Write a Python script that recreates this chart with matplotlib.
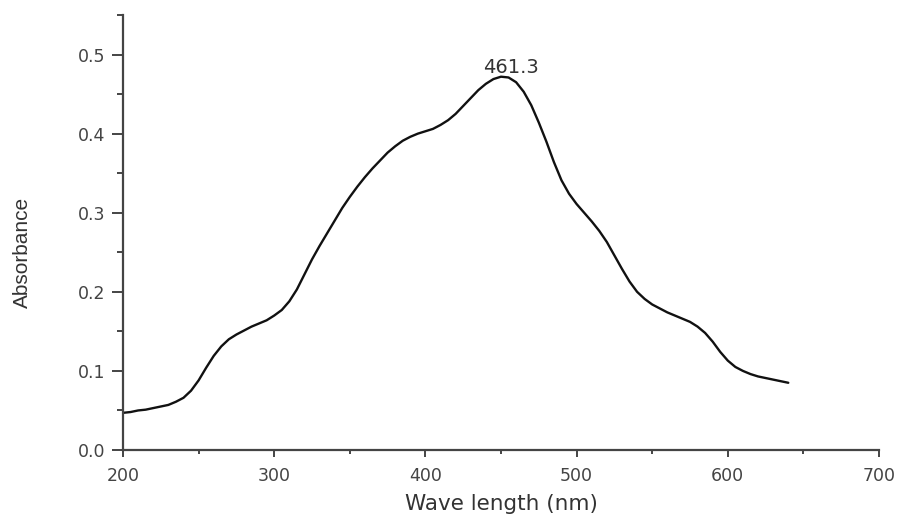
import matplotlib
matplotlib.use("Agg")
import matplotlib.pyplot as plt
from matplotlib.ticker import MultipleLocator

wavelength = list(range(200, 645, 5))
absorbance = [0.047, 0.048, 0.050, 0.051, 0.053, 0.055, 0.057, 0.061, 0.066, 0.075,
              0.088, 0.104, 0.119, 0.131, 0.140, 0.146, 0.151, 0.156, 0.160, 0.164,
              0.170, 0.177, 0.188, 0.203, 0.222, 0.241, 0.258, 0.274, 0.290, 0.306,
              0.320, 0.333, 0.345, 0.356, 0.366, 0.376, 0.384, 0.391, 0.396, 0.400,
              0.403, 0.406, 0.411, 0.417, 0.425, 0.435, 0.445, 0.455, 0.463, 0.469,
              0.472, 0.471, 0.465, 0.453, 0.436, 0.414, 0.390, 0.364, 0.341, 0.324,
              0.311, 0.300, 0.289, 0.277, 0.263, 0.246, 0.229, 0.213, 0.200, 0.191,
              0.184, 0.179, 0.174, 0.170, 0.166, 0.162, 0.156, 0.148, 0.137, 0.124,
              0.113, 0.105, 0.100, 0.096, 0.093, 0.091, 0.089, 0.087, 0.085]
peak_label = "461.3"
peak_pos = (456.6, 0.4836)
xticks = [200, 300, 400, 500, 600, 700]
yticks = [0.0, 0.1, 0.2, 0.3, 0.4, 0.5]

W, H = 901, 517
fig = plt.figure(figsize=(W / 100, H / 100), dpi=100)
ax = fig.add_axes([123 / W, 1 - 450 / H, (879 - 123) / W, (450 - 15) / H])

ax.plot(wavelength, absorbance, color="#111111", lw=1.7, solid_joinstyle="round",
        solid_capstyle="round")
ax.set_xlim(200, 700)
ax.set_ylim(0, 0.55)

for s in ["top", "right"]:
    ax.spines[s].set_visible(False)
for s in ["left", "bottom"]:
    ax.spines[s].set_color("#444444")
    ax.spines[s].set_linewidth(1.6)

ax.set_xticks(xticks)
ax.set_yticks(yticks)
ax.set_yticklabels([f"{v:.1f}" for v in yticks])
ax.xaxis.set_minor_locator(MultipleLocator(50))
ax.yaxis.set_minor_locator(MultipleLocator(0.05))

ax.tick_params(axis="y", which="major", direction="out", length=8, width=1.4,
               color="#444444", pad=5, labelcolor="#444444", labelsize=12.5)
ax.tick_params(axis="y", which="minor", direction="out", length=4.5, width=1.4,
               color="#444444")
ax.tick_params(axis="x", which="major", direction="out", length=5, width=1.4,
               color="#444444", pad=7, labelcolor="#444444", labelsize=12.5)
ax.tick_params(axis="x", which="minor", direction="out", length=3, width=1.4,
               color="#444444")
for lab in ax.get_xticklabels() + ax.get_yticklabels():
    lab.set_family("DejaVu Sans")

ax.text(peak_pos[0], peak_pos[1], peak_label, ha="center", va="center",
        fontsize=14, family="DejaVu Sans", color="#333333")

fig.text(501 / W, 1 - 504 / H, "Wave length (nm)", ha="center", va="center",
         fontsize=15.5, family="DejaVu Sans", color="#333333")
fig.text(22 / W, 1 - 252 / H, "Absorbance", ha="center", va="center",
         rotation=90, fontsize=15, family="Liberation Sans", color="#333333")

fig.savefig("out.png", dpi=100, facecolor="white")
